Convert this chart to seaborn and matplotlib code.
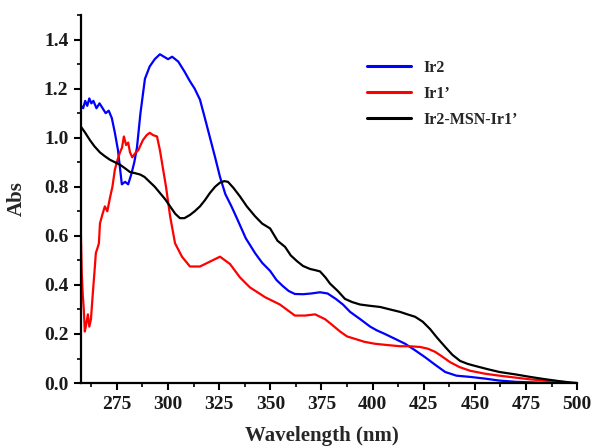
import matplotlib
matplotlib.use("Agg")
import matplotlib.pyplot as plt
import seaborn as sns
import pandas as pd
from matplotlib.ticker import MultipleLocator

# Ir2 (blue)
ir2_wl = [257.5, 258.5, 259.5, 260.5, 261.5, 262.5, 263.5, 265, 266.5, 268, 269.5, 271, 272.5, 274,
          275.5, 277.4, 279, 280.5, 282, 283.5, 284.8, 286.5, 288.7, 291, 293.5, 296, 298, 300, 302,
          305, 308, 310.7, 313, 315.6, 318, 320.5, 323, 325.4, 328, 331, 334, 338, 342.5, 346, 349.9,
          353, 356, 359, 362, 366, 370, 374.3, 378, 382, 385.5, 389, 394, 398.8, 402, 406, 411, 415.9,
          420.5, 425.7, 430.5, 435.5, 441, 447.7, 455, 462, 470, 480, 490, 500]
ir2_abs = [1.13, 1.12, 1.15, 1.13, 1.16, 1.14, 1.15, 1.12, 1.14, 1.12, 1.10, 1.11, 1.08, 1.02,
           0.95, 0.81, 0.82, 0.81, 0.85, 0.90, 0.96, 1.10, 1.24, 1.29, 1.32, 1.34, 1.33, 1.32, 1.33,
           1.31, 1.27, 1.23, 1.20, 1.155, 1.08, 1.00, 0.92, 0.84, 0.77, 0.72, 0.665, 0.59, 0.53, 0.49, 0.457,
           0.42, 0.396, 0.375, 0.363, 0.362, 0.365, 0.37, 0.365, 0.343, 0.32, 0.29, 0.26, 0.23, 0.215, 0.20, 0.18, 0.16,
           0.135, 0.105, 0.075, 0.045, 0.03, 0.025, 0.018, 0.01, 0.005, 0.002, 0.0, 0.0]

# Ir1' (red)
ir1_wl = [257.4, 257.8, 258.3, 258.8, 259.3, 260.0, 260.8, 261.5, 262.3, 263.3, 264.0, 264.7, 265.5,
          266.2, 266.7, 268.0, 269.1, 270.3, 271.6, 272.8, 274.0, 275.3, 276.5, 277.5, 278.4, 279.5,
          280.5, 281.4, 282.5, 283.8, 285.5, 287.7, 289.5, 291.0, 292.8, 294.6, 296.0, 297.0, 299.0,
          301.0, 303.4, 306.8, 310.7, 315.6, 320.5, 325.4, 330.3, 335.2, 340.0, 347.4, 354.7, 362.0,
          367.0, 371.9, 376.8, 380.5, 384.1, 387.5, 391.4, 396.0, 401.2, 407.0, 413.4, 418.0, 423.2,
          427.0, 430.6, 434.0, 437.9, 442.5, 447.7, 455.0, 462.0, 470.0, 477.0, 484.0, 491.0, 496.0]
ir1_abs = [0.60, 0.45, 0.36, 0.30, 0.21, 0.24, 0.28, 0.23, 0.26, 0.375, 0.45, 0.53, 0.55,
           0.57, 0.65, 0.69, 0.72, 0.70, 0.755, 0.80, 0.87, 0.91, 0.94, 0.96, 1.005, 0.97,
           0.98, 0.94, 0.92, 0.935, 0.95, 0.99, 1.01, 1.02, 1.01, 1.005, 0.95, 0.90, 0.80,
           0.68, 0.57, 0.515, 0.475, 0.475, 0.495, 0.515, 0.485, 0.43, 0.39, 0.35, 0.32, 0.275,
           0.275, 0.28, 0.26, 0.235, 0.21, 0.19, 0.18, 0.168, 0.16, 0.155, 0.15, 0.15, 0.147,
           0.14, 0.127, 0.108, 0.085, 0.065, 0.05, 0.038, 0.03, 0.022, 0.015, 0.01, 0.005, 0.003]

# Ir2-MSN-Ir1' (black)
mix_wl = [257.4, 259.5, 261.8, 264.0, 266.7, 269.0, 271.6, 274.0, 276.5, 279.0, 281.4, 284.0, 286.3,
          288.5, 291.0, 293.5, 296.0, 298.5, 301.0, 303.5, 305.8, 308.0, 310.7, 313.0, 315.6, 318.0,
          320.5, 323.0, 325.4, 327.5, 329.3, 332.0, 335.2, 338.5, 342.5, 346.0, 349.9, 353.5, 357.2,
          360.0, 363.0, 366.0, 369.4, 372.0, 374.3, 377.0, 379.2, 383.0, 386.5, 390.0, 393.9, 398.5,
          403.7, 408.5, 413.4, 417.0, 420.8, 424.5, 428.1, 431.5, 435.5, 439.0, 442.8, 446.5, 450.0,
          456.0, 462.0, 470.0, 477.0, 484.0, 491.0, 496.0, 500.0]
mix_abs = [1.045, 1.02, 0.99, 0.965, 0.94, 0.925, 0.91, 0.90, 0.89, 0.875, 0.86, 0.855, 0.85,
           0.84, 0.82, 0.80, 0.775, 0.75, 0.72, 0.69, 0.672, 0.672, 0.685, 0.70, 0.72, 0.745,
           0.775, 0.80, 0.817, 0.823, 0.82, 0.795, 0.76, 0.72, 0.68, 0.65, 0.63, 0.58, 0.555,
           0.52, 0.497, 0.477, 0.465, 0.46, 0.455, 0.43, 0.405, 0.375, 0.343, 0.33, 0.32, 0.315,
           0.31, 0.30, 0.29, 0.28, 0.27, 0.25, 0.22, 0.185, 0.147, 0.115, 0.09, 0.078, 0.07,
           0.057, 0.045, 0.035, 0.025, 0.016, 0.008, 0.003, 0.0]

series_names = ["Ir2", "Ir1\u2019", "Ir2-MSN-Ir1\u2019"]
series_colors = ["#0000ff", "#ff0000", "#000000"]
xtick_vals = [275, 300, 325, 350, 375, 400, 425, 450, 475, 500]
ytick_vals = [0.0, 0.2, 0.4, 0.6, 0.8, 1.0, 1.2, 1.4]
ytick_labels = ["0.0", "0.2", "0.4", "0.6", "0.8", "1.0", "1.2", "1.4"]

sns.set_theme(style="ticks")
plt.rcParams['font.family'] = ['Liberation Serif', 'DejaVu Serif']
plt.rcParams['font.weight'] = 'bold'

frames = []
for name, wl, ab in zip(series_names, [ir2_wl, ir1_wl, mix_wl], [ir2_abs, ir1_abs, mix_abs]):
    frames.append(pd.DataFrame({"Wavelength": wl, "Abs": ab, "Series": name}))
df = pd.concat(frames, ignore_index=True)

fig = plt.figure(figsize=(5.95, 4.48), dpi=100)
ax = fig.add_axes([0.136, 0.145, 0.834, 0.8215])

sns.lineplot(data=df, x="Wavelength", y="Abs", hue="Series", hue_order=series_names,
             palette=series_colors, linewidth=1.6, sort=False, estimator=None, ax=ax)

ax.set_xlim(257.4, 500)
ax.set_ylim(0, 1.5)
ax.xaxis.set_minor_locator(MultipleLocator(12.5))
ax.yaxis.set_minor_locator(MultipleLocator(0.1))
ax.set_xticks(xtick_vals)
ax.set_yticks(ytick_vals)
ax.set_yticklabels(ytick_labels)
ax.tick_params(axis='both', which='major', direction='out', length=5, width=1.5,
               labelsize=14, color='black', labelcolor='#1a1a1a', pad=4)
ax.tick_params(axis='both', which='minor', direction='out', length=3, width=1.2, color='black')
for lab in ax.get_xticklabels() + ax.get_yticklabels():
    lab.set_fontweight('bold')

for s in ['left', 'bottom']:
    ax.spines[s].set_linewidth(1.6)
    ax.spines[s].set_color('black')
ax.spines['top'].set_visible(False)
ax.spines['right'].set_visible(False)

ax.set_xlabel("Wavelength (nm)", fontsize=15, fontweight='bold', labelpad=10)
ax.set_ylabel("Abs", fontsize=15, fontweight='bold', labelpad=12)
ax.xaxis.label.set_x(0.486)

leg = ax.legend(loc='upper left', bbox_to_anchor=(0.548, 0.917), frameon=False,
                fontsize=11.5, handlelength=2.75, handletextpad=0.75, labelspacing=0.62)
for t in leg.get_texts():
    t.set_fontweight('bold')
for line in leg.get_lines():
    line.set_linewidth(2.2)

fig.savefig("out.png", dpi=100)
